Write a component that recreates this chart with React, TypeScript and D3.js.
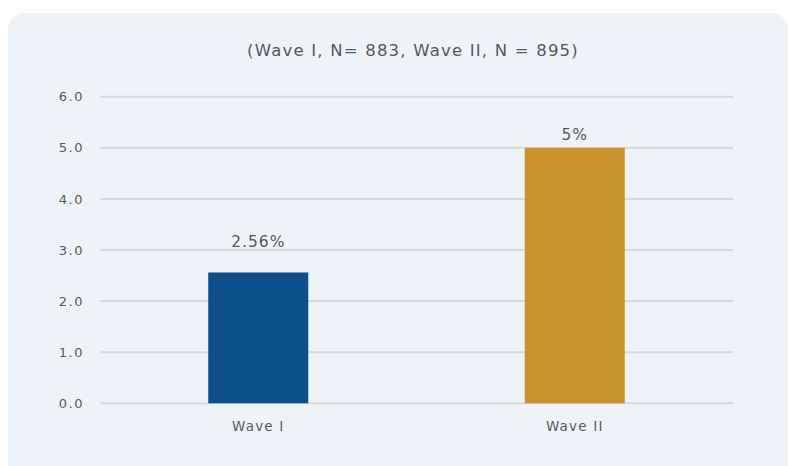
import React from "react";
import * as d3 from "d3";

const categories = ["Wave I", "Wave II"];
const values = [2.56, 5];
const valueLabels = ["2.56%", "5%"];
const colors = ["#0b4f8b", "#c9922e"];
const yTicks = [0, 1, 2, 3, 4, 5, 6];
const title = "(Wave I, N= 883, Wave II, N = 895)";

export default function App() {
  const W = 790, H = 466;
  const left = 100, right = 733, top = 96.7, bottom = 403.3;
  const x = d3.scaleBand<string>().domain(categories).range([left, right]).paddingInner(0.684).paddingOuter(0.342);
  const y = d3.scaleLinear().domain([0, 6]).range([bottom, top]);
  const font = "'DejaVu Sans', Verdana, sans-serif";
  const labelGap = (i: number) => (i === 0 ? 25 : 7.5);
  return (
    <svg width={W} height={H} style={{ position: "absolute", left: 0, top: 0 }}>
      <rect x={8} y={13} width={780} height={470} rx={16} fill="#eef3f8" />
      <text x={413} y={56} textAnchor="middle" fontFamily={font} fontSize={16.5} letterSpacing={1.2} fill="#595959">{title}</text>
      {yTicks.map((t) => (
        <g key={t}>
          <line x1={left} x2={right} y1={y(t)} y2={y(t)} stroke="#d9d9d9" strokeWidth={2} />
          <text x={84} y={y(t) + 4.6} textAnchor="end" fontFamily={font} fontSize={13} letterSpacing={1.5} fill="#595959">{t.toFixed(1)}</text>
        </g>
      ))}
      {categories.map((c, i) => (
        <g key={c}>
          <rect x={x(c)} y={y(values[i])} width={x.bandwidth()} height={y(0) - y(values[i])} fill={colors[i]} />
          <text x={(x(c) as number) + x.bandwidth() / 2} y={y(values[i]) - labelGap(i)} textAnchor="middle" fontFamily={font} fontSize={15.5} letterSpacing={1.0} fill="#595959">{valueLabels[i]}</text>
          <text x={(x(c) as number) + x.bandwidth() / 2} y={y(0) + 28} textAnchor="middle" fontFamily={font} fontSize={13.5} letterSpacing={1.2} fill="#595959">{c}</text>
        </g>
      ))}
    </svg>
  );
}
